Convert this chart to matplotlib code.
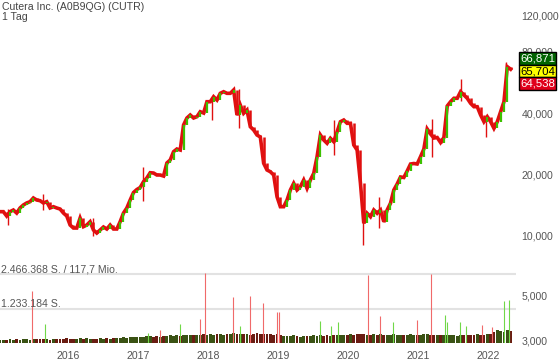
import matplotlib
matplotlib.use('Agg')
import matplotlib.pyplot as plt
import matplotlib.dates as mdates
from matplotlib.ticker import FixedLocator, FuncFormatter, NullLocator
import numpy as np
import pandas as pd

plt.rcParams['font.family'] = ['Liberation Sans', 'DejaVu Sans']

# closing prices, sampled about every 17 days (Jan 2015 - Apr 2022)
closes = [
    13160, 13160, 12530, 13160, 13410, 12960, 13720, 14190, 14520, 14730,
    15360, 15010, 14900, 14520, 14730, 13720, 13920, 13720, 13560, 12960,
    12530, 11320, 10940, 10940, 12250, 11110, 11320, 11750, 10700, 10340,
    10700, 11070, 10820, 11320, 10820, 10820, 11750, 12960, 13720, 15010,
    16340, 16900, 17290, 18460, 19250, 20430, 20360, 19910, 19910, 19680,
    22800, 23590, 25900, 26700, 26400, 35020, 37890, 39200, 37890, 38450,
    40680, 40080, 45540, 45540, 48190, 46430, 50070, 50980, 50070, 50070,
    51980, 39200, 43880, 39950, 41470, 34340, 33090, 31270, 30570, 22720,
    21070, 20660, 19910, 15580, 13920, 13920, 15010, 16810, 18130, 16810,
    17450, 18820, 17130, 18820, 20290, 24480, 31270, 29560, 28480, 30130,
    29000, 32460, 36340, 37040, 35690, 35690, 27940, 26400, 18130, 11540,
    12920, 12430, 13410, 12920, 13410, 11750, 13410, 14470, 16810, 17990,
    19470, 19360, 20830, 22540, 22670, 22540, 24480, 26700, 33470, 31630,
    30230, 30400, 28730, 30400, 43380, 45540, 47340, 47340, 50980, 49110,
    47340, 44730, 43050, 43050, 39200, 36340, 38450, 36340, 33730, 36340,
    40680, 45540, 67620, 65704,
]

# notable intraday extremes (date, low, high)
wick_dates = ['2015-02-20', '2015-08-20', '2016-05-10', '2017-01-25', '2018-01-20',
              '2018-06-10', '2019-10-20', '2020-03-18', '2020-06-10', '2021-03-10',
              '2021-08-10', '2021-12-20', '2022-04-05']
wick_low = [11300, 13400, 10000, 14900, 37000, 33800, 25000, 9030, 11000, 24480,
            46000, 30600, 62000]
wick_high = [13600, 16000, 12300, 21800, 46500, 52500, 37000, 12500, 15600, 37400,
             58600, 37000, 71600]

# typical traded volume per sample (thousands of shares)
base_volume = [
    110, 120, 100, 130, 110, 140, 120, 150, 130, 120,
    140, 160, 130, 150, 140, 120, 160, 140, 150, 130,
    170, 150, 160, 140, 180, 150, 170, 160, 150, 140,
    170, 160, 180, 150, 170, 190, 180, 200, 190, 210,
    220, 200, 230, 210, 240, 250, 220, 240, 230, 260,
    250, 270, 260, 280, 250, 300, 280, 270, 290, 300,
    280, 310, 290, 320, 300, 330, 310, 300, 340, 320,
    350, 330, 310, 340, 320, 300, 330, 350, 320, 340,
    330, 310, 300, 320, 290, 260, 250, 240, 270, 250,
    230, 260, 240, 250, 270, 260, 280, 250, 270, 260,
    280, 270, 290, 300, 280, 310, 300, 320, 330, 310,
    300, 290, 310, 300, 320, 290, 300, 280, 310, 300,
    290, 280, 300, 310, 290, 280, 300, 320, 310, 290,
    300, 280, 270, 290, 300, 280, 270, 260, 280, 270,
    290, 280, 300, 310, 290, 300, 320, 340, 380, 450,
    420, 400, 460, 430,
]

# single-day volume spikes (shares)
spike_dates = [
    '2015-06-27', '2015-09-01', '2017-02-20', '2017-04-25', '2017-08-06',
    '2017-11-17', '2017-12-14', '2018-05-11', '2018-06-15', '2018-08-07',
    '2018-10-12', '2018-12-23', '2019-01-05', '2019-08-06', '2019-10-01',
    '2019-11-09', '2020-04-14', '2020-06-15', '2020-08-23', '2020-12-23',
    '2021-03-06', '2021-05-19', '2021-05-28', '2021-08-06', '2021-09-05',
    '2021-12-01', '2022-01-20', '2022-03-25', '2022-04-18',
]
spike_volume = [
    1850000, 680000, 370000, 450000, 680000,
    860000, 2520000, 1650000, 620000, 1690000,
    1440000, 1110000, 1110000, 790000, 620000,
    770000, 2430000, 975000, 770000, 830000,
    2490000, 1010000, 770000, 770000, 600000,
    640000, 580000, 1500000, 1540000,
]
spike_up = [
    False, True, True, False, True,
    False, False, False, True, False,
    False, False, False, True, True,
    True, False, False, True, False,
    False, True, True, True, True,
    False, False, True, True,
]

price_ticks = [10000, 20000, 40000, 80000, 120000]
ind_ticks = [3000, 5000]
last_quote = [66871, 65704, 64538]
vol_levels = [1233184, 2466368]
vol_labels = ['1.233.184 S.', '2.466.368 S. / 117,7 Mio.']

RED = '#e01010'
GREEN = '#3cc000'
TXT = '#555555'

dates = pd.date_range('2015-01-09', '2022-04-27', periods=len(closes))
closes = np.array(closes, dtype=float)
opens = np.r_[closes[0], closes[:-1]]
up = closes >= opens

W, H = 560, 363
fig = plt.figure(figsize=(W / 100, H / 100), dpi=100)
ax = fig.add_axes([0, 1 - 252 / H, 516 / W, 252 / H])
axv = fig.add_axes([0, 1 - 343 / H, 516 / W, 81 / H], sharex=ax)

# price panel
ax.vlines(pd.to_datetime(wick_dates), wick_low, wick_high, color=RED, lw=1.0, zorder=2)
ax.plot(dates, closes, color=RED, lw=2.6, solid_joinstyle='miter', zorder=2)
ax.vlines(dates[up], opens[up], closes[up], color=GREEN, lw=1.6, zorder=3)
ax.vlines(dates[~up], closes[~up], opens[~up], color=RED, lw=1.8, zorder=3)
ax.set_yscale('log')
ax.set_ylim(8347, 143600)
ax.yaxis.tick_right()
ax.yaxis.set_major_locator(FixedLocator(price_ticks))
ax.yaxis.set_minor_locator(NullLocator())
ax.yaxis.set_major_formatter(FuncFormatter(lambda v, p: f'{v:,.0f}'))
ax.tick_params(axis='y', length=0, pad=4, labelsize=7.6, labelcolor=TXT)
ax.tick_params(axis='x', length=0, labelbottom=False)
for s in ax.spines.values():
    s.set_visible(False)

# volume panel
spike_dt = pd.to_datetime(spike_dates)
spike_volume = np.array(spike_volume)
spike_up = np.array(spike_up)
step = (dates[1] - dates[0])
vol = np.array(base_volume) * 1000
axv.bar(dates, vol, width=step * 0.85, color=np.where(up, '#3a5214', '#6a1c12'), zorder=2)
axv.vlines(spike_dt[spike_up], 0, spike_volume[spike_up], color='#70d848', lw=0.8, zorder=3)
axv.vlines(spike_dt[~spike_up], 0, spike_volume[~spike_up], color='#f06a6a', lw=0.8, zorder=3)
for lv, lab in zip(vol_levels, vol_labels):
    axv.axhline(lv, color='#e2e2e2', lw=1.5, zorder=1)
    axv.text(0.002, lv, lab, transform=axv.get_yaxis_transform(), ha='left', va='bottom',
             fontsize=7.6, color=TXT)
axv.set_ylim(0, 2466368 * 81 / 68.7)
axv.set_yticks([])
axv.set_xlim(pd.Timestamp('2015-01-09'), pd.Timestamp('2022-05-25'))
axv.xaxis.set_major_locator(mdates.YearLocator())
axv.xaxis.set_major_formatter(mdates.DateFormatter('%Y'))
axv.tick_params(axis='x', length=0, pad=6, labelsize=7.6, labelcolor=TXT)
for s in axv.spines.values():
    s.set_visible(False)

axr = axv.twinx()
axr.set_ylim(2911, 6511)
axr.yaxis.set_major_locator(FixedLocator(ind_ticks))
axr.yaxis.set_major_formatter(FuncFormatter(lambda v, p: f'{v:,.0f}'))
axr.tick_params(axis='y', length=0, pad=4, labelsize=7.6, labelcolor=TXT)
for s in axr.spines.values():
    s.set_visible(False)

# title
fig.text(2 / W, 1 - 2 / H, 'Cutera Inc. (A0B9QG) (CUTR)', ha='left', va='top', fontsize=7.6, color='#444444')
fig.text(2 / W, 1 - 12 / H, '1 Tag', ha='left', va='top', fontsize=7.6, color='#444444')

# last quote boxes
box_styles = [('#006400', 'white'), ('#ffff00', 'black'), ('#e0001b', 'white')]
for k, (val, (bg, fg)) in enumerate(zip(last_quote, box_styles)):
    fig.text(520 / W, 1 - (58.5 + 12.6 * k) / H, f'{val:,}', ha='left', va='center',
             fontsize=8.2, color=fg, zorder=5,
             bbox=dict(boxstyle='square,pad=0.12', fc=bg, ec='black', lw=1.0))

fig.savefig('out.png', dpi=100)
